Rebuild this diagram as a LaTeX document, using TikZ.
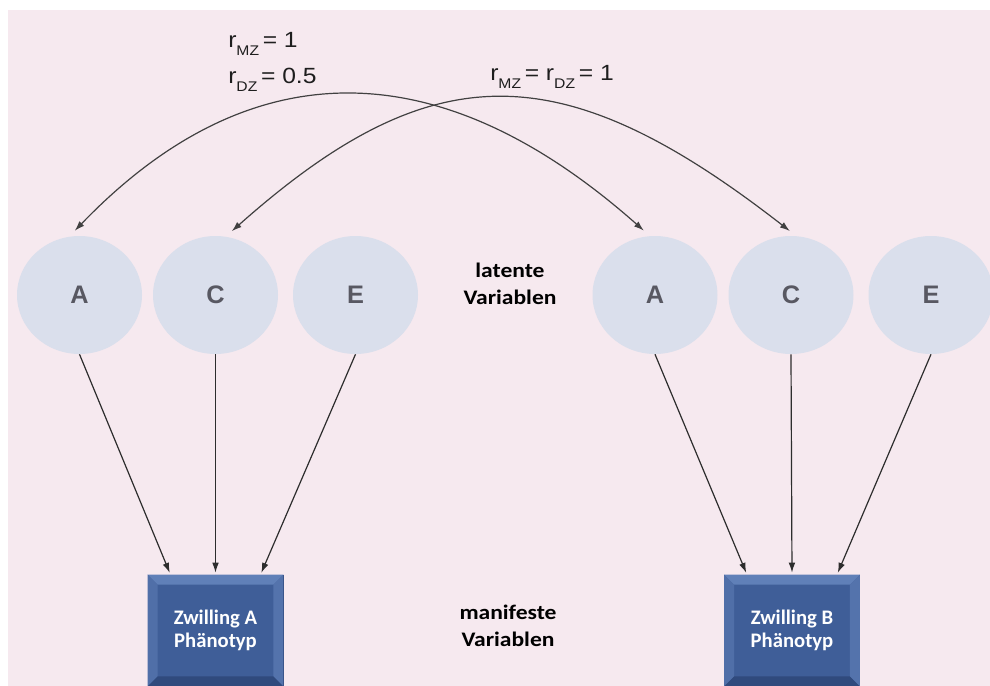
\documentclass[tikz,border=0pt]{standalone}
\usepackage{fontspec}
\setmainfont{Liberation Sans}
\newfontfamily\calibrifont{Carlito}
\newfontfamily\calibriwide[FakeStretch=1.14]{Carlito}
\newfontfamily\arialwide[FakeStretch=1.12]{Liberation Sans}
\usepackage{xcolor}
\usepackage{tikz}
\usetikzlibrary{shapes.geometric,arrows.meta}
\newcommand{\lowsub}[1]{\raisebox{-6pt}{\fontsize{10.5}{11}\selectfont #1}}

\begin{document}
\begin{tikzpicture}[x=0.75pt,y=0.75pt,yscale=-1,xscale=1,
  latent/.style={ellipse, fill={rgb, 255:red, 218; green, 223; blue, 236}, minimum width=93.75pt, minimum height=88.5pt, inner sep=0pt, text={rgb, 255:red, 88; green, 88; blue, 98}, font=\fontsize{19}{22}\selectfont\bfseries},
  twin/.style={rectangle, fill={rgb, 255:red, 63; green, 94; blue, 152}, draw={rgb, 255:red, 45; green, 70; blue, 120}, line width=0.5pt, minimum width=101.25pt, minimum height=83.25pt, inner sep=0pt, text=white, align=center, font=\calibrifont\bfseries\fontsize{15.5}{17}\selectfont},
  midlabel/.style={inner sep=0pt, align=center, font=\calibriwide\bfseries\fontsize{15.5}{20.5}\selectfont},
  corrlabel/.style={inner sep=0pt, anchor=base west, text={rgb, 255:red, 30; green, 30; blue, 30}, font=\arialwide\fontsize{16.5}{19}\selectfont},
  link/.style={draw={rgb, 255:red, 45; green, 45; blue, 45}, line width=0.9pt, -{Latex[length=7.5pt,width=5pt]}, shorten >=1.5pt},
  corr/.style={draw={rgb, 255:red, 65; green, 65; blue, 65}, line width=0.9pt, {Latex[length=7.5pt,width=5pt]}-{Latex[length=7.5pt,width=5pt]}, shorten <=6pt, shorten >=6pt}]
\clip (0,0) rectangle (990,686);
%Background
\fill [white] (0,0) rectangle (990,686);
\fill [color={rgb, 255:red, 246; green, 233; blue, 239 }] (8,10) rectangle (1000,700);
%Shape: Ellipse
\node [latent] (lA) at (79.5,295) {A};
\node [latent] (lC) at (215.5,295) {C};
\node [latent] (lE) at (355.5,295) {E};
\node [latent] (rA) at (655,295) {A};
\node [latent] (rC) at (791,295) {C};
\node [latent] (rE) at (931,295) {E};
%Shape: Rectangle
\node [twin] (zA) at (215.5,630.5) {Zwilling A\\Phänotyp};
\node [twin] (zB) at (792,630.5) {Zwilling B\\Phänotyp};
%Bevel
\fill [color={rgb, 255:red, 96; green, 128; blue, 184 }] (zA.north west) -- (zA.north east) -- ([shift={(-10,10)}]zA.north east) -- ([shift={(10,10)}]zA.north west) -- cycle ;
\fill [color={rgb, 255:red, 80; green, 111; blue, 168 }] (zA.north west) -- ([shift={(10,10)}]zA.north west) -- ([shift={(10,-10)}]zA.south west) -- (zA.south west) -- cycle ;
\fill [color={rgb, 255:red, 84; green, 115; blue, 172 }] (zA.north east) -- ([shift={(-10,10)}]zA.north east) -- ([shift={(-10,-10)}]zA.south east) -- (zA.south east) -- cycle ;
\fill [color={rgb, 255:red, 48; green, 74; blue, 125 }] (zA.south west) -- ([shift={(10,-10)}]zA.south west) -- ([shift={(-10,-10)}]zA.south east) -- (zA.south east) -- cycle ;
\fill [color={rgb, 255:red, 96; green, 128; blue, 184 }] (zB.north west) -- (zB.north east) -- ([shift={(-10,10)}]zB.north east) -- ([shift={(10,10)}]zB.north west) -- cycle ;
\fill [color={rgb, 255:red, 80; green, 111; blue, 168 }] (zB.north west) -- ([shift={(10,10)}]zB.north west) -- ([shift={(10,-10)}]zB.south west) -- (zB.south west) -- cycle ;
\fill [color={rgb, 255:red, 84; green, 115; blue, 172 }] (zB.north east) -- ([shift={(-10,10)}]zB.north east) -- ([shift={(-10,-10)}]zB.south east) -- (zB.south east) -- cycle ;
\fill [color={rgb, 255:red, 48; green, 74; blue, 125 }] (zB.south west) -- ([shift={(10,-10)}]zB.south west) -- ([shift={(-10,-10)}]zB.south east) -- (zB.south east) -- cycle ;
%Curve Lines
\draw [corr] (lA.100) .. controls +(180,-187) and +(-211,-187) .. (rA.95) ;
\draw [corr] (lC.80) .. controls +(206,-183) and +(-235,-183) .. (rC.85) ;
%Straight Lines
\draw [link] (lA.south) -- ([shift={(-45,0)}]zA.north) ;
\draw [link] (lC.south) -- (zA.north) ;
\draw [link] (lE.south) -- ([shift={(45,0)}]zA.north) ;
\draw [link] (rA.south) -- ([shift={(-45,0)}]zB.north) ;
\draw [link] (rC.south) -- (zB.north) ;
\draw [link] (rE.south) -- ([shift={(45,0)}]zB.north) ;
% Text Node
\node [midlabel] (lat) at (510,284) {latente\\Variablen};
% Text Node
\node [midlabel] (man) at (508,626) {manifeste\\Variablen};
% Text Node
\node [corrlabel] (rmz) at (228,47) {r\lowsub{MZ}\,= 1};
% Text Node
\node [corrlabel] (rdz) at (228,83) {r\lowsub{DZ}\,= 0.5};
% Text Node
\node [corrlabel] (req) at (490,80) {r\lowsub{MZ}\,= r\lowsub{DZ}\,= 1};
\end{tikzpicture}
\end{document}
